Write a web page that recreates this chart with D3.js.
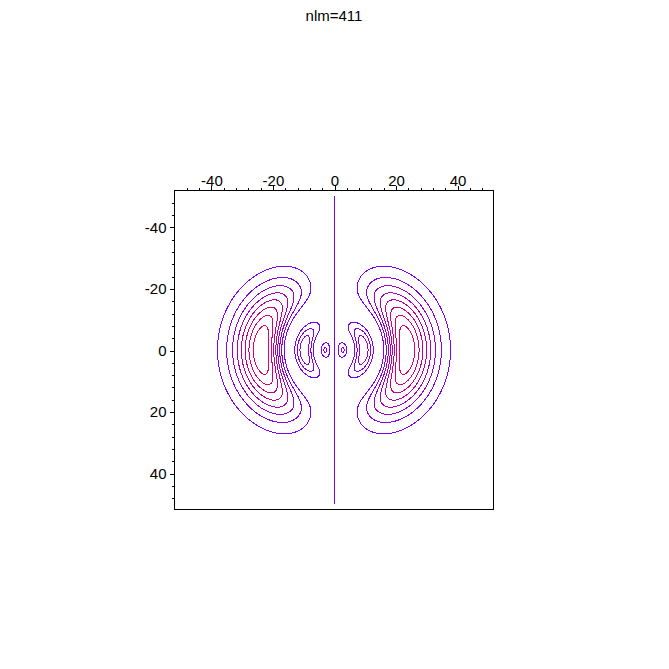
<!DOCTYPE html>
<html>
<head>
<meta charset="utf-8">
<script src="https://cdn.jsdelivr.net/npm/d3@7"></script>
<style>
  html, body { margin: 0; padding: 0; background: #fff; }
  text { font-family: "Liberation Sans", Arial, sans-serif; }
</style>
</head>
<body>
<script>
// hydrogen orbital n,l,m = 4,1,1 ; plotted quantity is r^2 |psi|^2 in the x-z plane
var quantum = [4, 1, 1];
var plotRange = [-50, 50];
var viewRange = [-52, 52];
var levels = [1.1, 2.2, 3.3, 4.4, 5.5, 6.6, 7.7, 8.8];
var majorTicks = [-40, -20, 0, 20, 40];
var minorTicks = [-48, -44, -36, -32, -28, -24, -16, -12, -8, -4, 4, 8, 12, 16, 24, 28, 32, 36, 44, 48];

var width = 669, height = 669;

var svg = d3.select("body").append("svg")
    .attr("width", width)
    .attr("height", height);

svg.append("text")
    .attr("x", 334)
    .attr("y", 21)
    .attr("text-anchor", "middle")
    .style("font-size", "15px")
    .text("nlm=" + quantum.join(""));

var x = d3.scaleLinear().domain(viewRange).range([174, 494]);
var y = d3.scaleLinear().domain(viewRange).range([190, 510]);

// r^2 * |R_41(r)|^2 * sin^2(theta), unnormalised
function density(px, pz) {
    var r2 = px * px + pz * pz, r = Math.sqrt(r2);
    var poly = 1 - r / 4 + r2 / 80;
    return r2 * px * px * poly * poly * Math.exp(-r / 2);
}

var step = 0.2;
var nx = Math.round((plotRange[1] - plotRange[0]) / step) + 1;
var values = new Float64Array(nx * nx);
for (var j = 0; j < nx; j++) {
    for (var i = 0; i < nx; i++) {
        values[j * nx + i] = density(plotRange[0] + i * step, plotRange[0] + j * step);
    }
}

var contours = d3.contours().size([nx, nx]).thresholds(levels)(values);

var toScreen = d3.geoTransform({
    point: function(gx, gy) {
        this.stream.point(x(plotRange[0] + (gx - 0.5) * step), y(plotRange[0] + (gy - 0.5) * step));
    }
});
var path = d3.geoPath(toScreen);

var color = d3.scaleLinear()
    .domain([0, levels.length - 1])
    .range(["#7a00ff", "#e8005a"])
    .interpolate(d3.interpolateRgb);

svg.append("g")
    .selectAll("path")
    .data(contours)
    .enter().append("path")
    .attr("d", path)
    .attr("fill", "none")
    .attr("stroke", function(d, i) { return color(i); })
    .attr("stroke-width", 1)
    .attr("shape-rendering", "crispEdges");

// nodal line x = 0
svg.append("line")
    .attr("x1", x(0) + 0.5).attr("x2", x(0) + 0.5)
    .attr("y1", y(plotRange[0])).attr("y2", y(plotRange[1]))
    .attr("stroke", "#7a00ff")
    .attr("stroke-width", 1)
    .attr("shape-rendering", "crispEdges");

// frame
svg.append("rect")
    .attr("x", 174.5).attr("y", 190.5)
    .attr("width", 319).attr("height", 319)
    .attr("fill", "none")
    .attr("stroke", "#000")
    .attr("shape-rendering", "crispEdges");

function styleAxis(g) {
    g.select(".domain").remove();
    g.selectAll("line").attr("shape-rendering", "crispEdges");
    g.selectAll("text")
        .style("font-family", "'Liberation Sans', Arial, sans-serif")
        .style("font-size", "15px")
        .attr("fill", "#000");
}

svg.append("g")
    .attr("transform", "translate(0.5,190.5)")
    .call(d3.axisTop(x).tickValues(minorTicks).tickSize(3).tickSizeOuter(0).tickFormat(""))
    .call(styleAxis);
svg.append("g")
    .attr("transform", "translate(0.5,190.5)")
    .call(d3.axisTop(x).tickValues(majorTicks).tickSize(5).tickSizeOuter(0).tickPadding(0))
    .call(styleAxis);

svg.append("g")
    .attr("transform", "translate(174.5,0.5)")
    .call(d3.axisLeft(y).tickValues(minorTicks).tickSize(3).tickSizeOuter(0).tickFormat(""))
    .call(styleAxis);
svg.append("g")
    .attr("transform", "translate(174.5,0.5)")
    .call(d3.axisLeft(y).tickValues(majorTicks).tickSize(5).tickSizeOuter(0).tickPadding(3))
    .call(styleAxis);

svg.selectAll("text").filter(function() { return this.textContent.indexOf("−") >= 0; })
    .text(function() { return this.textContent.replace("−", "-"); });
</script>
</body>
</html>
